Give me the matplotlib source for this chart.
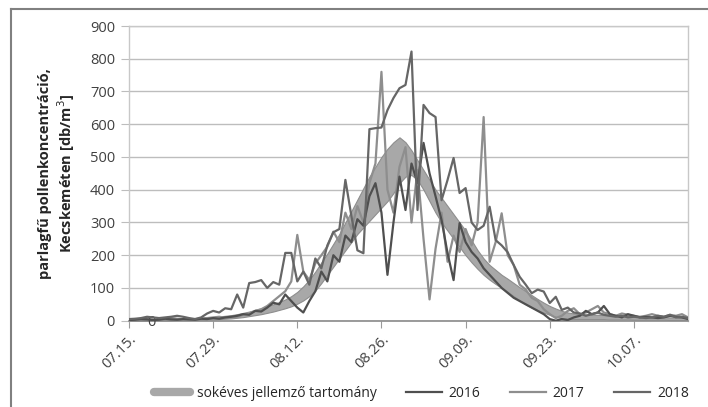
import matplotlib
matplotlib.use("Agg")
import matplotlib.pyplot as plt
from matplotlib.lines import Line2D
import numpy as np

plt.rcParams['font.family'] = ['Open Sans', 'DejaVu Sans']

# day index from 07.15.
tick_pos = [0, 14, 28, 42, 56, 70, 84]
tick_labels = ['07.15.', '07.29.', '08.12.', '08.26.', '09.09.', '09.23.', '10.07.']

band_upper = [3, 3, 3, 4, 4, 4, 5, 5, 6, 6,
              7, 8, 9, 10, 11, 13, 15, 17, 20, 24,
              28, 33, 38, 44, 50, 57, 65, 75, 88, 105,
              125, 150, 178, 205, 235, 265, 300, 335, 370, 405,
              440, 470, 500, 525, 545, 560, 545, 520, 490, 460,
              430, 400, 375, 350, 325, 300, 275, 245, 215, 190,
              170, 155, 140, 128, 115, 102, 90, 78, 66, 55,
              45, 37, 30, 25, 22, 20, 19, 18, 18, 17,
              16, 15, 15, 14, 13, 13, 12, 12, 11, 11,
              10, 10, 9, 9]
band_lower = [0, 0, 0, 0, 1, 1, 1, 1, 2, 2,
              2, 3, 3, 4, 4, 5, 6, 7, 9, 11,
              14, 17, 20, 24, 28, 33, 38, 44, 52, 62,
              75, 92, 115, 140, 165, 190, 215, 240, 265, 285,
              305, 325, 345, 365, 390, 420, 440, 445, 430, 400,
              365, 330, 300, 275, 250, 225, 200, 178, 158, 140,
              125, 112, 100, 88, 75, 62, 50, 40, 32, 25,
              18, 12, 8, 6, 5, 5, 5, 5, 5, 5,
              4, 4, 4, 4, 3, 3, 3, 3, 3, 3,
              2, 2, 2, 2]

y2016 = [2, 3, 5, 4, 2, 3, 6, 4, 3, 5,
         4, 3, 6, 5, 8, 6, 10, 12, 15, 20,
         18, 30, 28, 40, 55, 50, 80, 60, 40, 25,
         60, 90, 150, 120, 200, 180, 260, 240, 310, 290,
         380, 420, 330, 140, 300, 440, 338, 480, 420, 543,
         450, 380, 307, 206, 124, 298, 240, 210, 190, 160,
         140, 120, 100, 85, 70, 60, 50, 40, 30, 20,
         5, 0, 5, 2, 10, 15, 30, 20, 25, 45,
         20, 15, 10, 20, 15, 10, 12, 10, 8, 10,
         15, 12, 10, 5]

y2017 = [3, 5, 4, 6, 3, 2, 5, 8, 6, 4,
         3, 5, 6, 8, 10, 12, 9, 10, 12, 18,
         22, 30, 35, 45, 60, 75, 90, 120, 262, 150,
         124, 175, 200, 226, 272, 240, 330, 280, 350, 300,
         420, 480, 760, 400, 330, 470, 530, 300, 460, 250,
         65, 220, 330, 180, 260, 210, 280, 230, 300, 622,
         180, 240, 328, 200, 170, 110, 95, 70, 60, 35,
         20, 8, 15, 30, 38, 20, 25, 35, 45, 25,
         20, 15, 22, 18, 15, 12, 15, 20, 15, 12,
         18, 15, 20, 10]

y2018 = [5, 6, 8, 12, 10, 8, 10, 12, 15, 12,
         8, 5, 10, 22, 30, 25, 38, 35, 80, 40,
         115, 118, 124, 100, 118, 110, 207, 207, 120, 150,
         110, 190, 160, 230, 270, 280, 430, 320, 215, 206,
         585, 588, 590, 643, 680, 710, 720, 822, 338, 659,
         634, 622, 368, 430, 497, 390, 405, 300, 277, 290,
         348, 246, 230, 209, 170, 134, 110, 84, 95, 89,
         54, 73, 33, 40, 25, 22, 15, 20, 25, 18,
         15, 12, 15, 10, 12, 10, 8, 10, 15, 12,
         18, 10, 12, 8]

days = np.arange(len(y2016))

fig = plt.figure(figsize=(7.08, 4.07), dpi=100)
ax = fig.add_axes([129 / 708, 1 - 320.7 / 407, (688 - 129) / 708, (320.7 - 26) / 407])

ax.fill_between(days, band_lower, band_upper, color='#a8a8a8', lw=0.8,
                edgecolor='#8e8e8e', zorder=2)
ax.plot(days, y2016, color='#4f4f4f', lw=1.6, zorder=4)
ax.plot(days, y2017, color='#8e8e8e', lw=1.6, zorder=3)
ax.plot(days, y2018, color='#666666', lw=1.6, zorder=5)

ax.set_xlim(0, 93)
ax.set_ylim(0, 900)
ax.set_yticks(range(0, 901, 100))
ax.set_xticks(tick_pos)
ax.set_xticklabels(tick_labels, rotation=45, ha='right', va='top',
                   rotation_mode='anchor')
ax.tick_params(axis='both', labelsize=10.5, colors='#404040')
ax.tick_params(axis='y', length=6, color='#bdbdbd', pad=4)
ax.tick_params(axis='x', length=5, color='#9a9a9a', pad=3)
ax.yaxis.grid(True, color='#bdbdbd', lw=1.0)
ax.set_axisbelow(True)
for s in ['left', 'right', 'top']:
    ax.spines[s].set_color('#c8c8c8')
    ax.spines[s].set_linewidth(1.0)
ax.spines['bottom'].set_color('#8a8a8a')
ax.spines['bottom'].set_linewidth(1.2)

ax.set_ylabel('parlagfű pollenkoncentráció,\nKecskeméten [db/m$^3$]',
              fontsize=10.5, fontweight='bold', color='#262626', labelpad=9,
              linespacing=1.2)

# stray data label
ax.text(3.7, -6, '0', ha='center', va='center', fontsize=10.5, color='#404040',
        clip_on=False)

handles = [Line2D([], [], color='#a8a8a8', lw=6, solid_capstyle='round'),
           Line2D([], [], color='#4f4f4f', lw=1.6),
           Line2D([], [], color='#8e8e8e', lw=1.6),
           Line2D([], [], color='#666666', lw=1.6)]
fig.legend(handles, ['sokéves jellemző tartomány', '2016', '2017', '2018'],
           loc='center', bbox_to_anchor=(0.595, 0.034), ncol=4, frameon=False,
           fontsize=10, handlelength=2.6, handletextpad=0.5, columnspacing=2.1,
           labelcolor='#262626')

# outer frame of the original chart (cropped)
fig.add_artist(Line2D([11 / 708, 1], [1 - 8.7 / 407, 1 - 8.7 / 407],
                      transform=fig.transFigure, color='#808080', lw=1.5))
fig.add_artist(Line2D([11 / 708, 11 / 708], [0, 1 - 8.7 / 407],
                      transform=fig.transFigure, color='#808080', lw=1.5))

fig.savefig('out.png', dpi=100)
